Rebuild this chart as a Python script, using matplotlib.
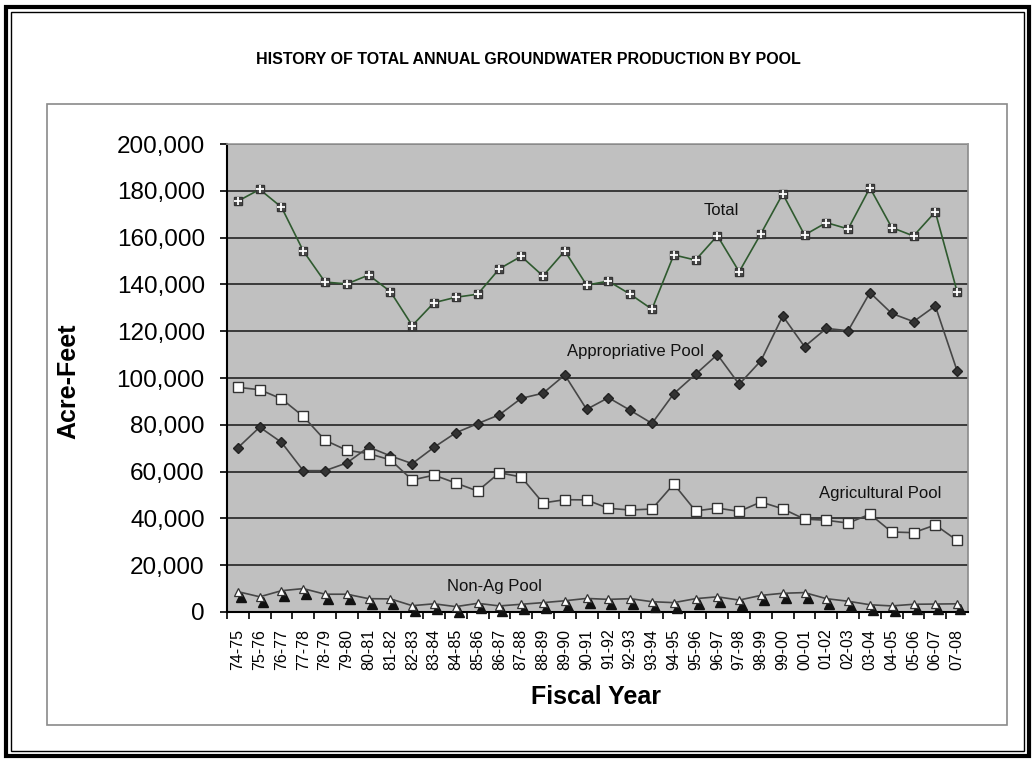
import matplotlib
matplotlib.use("Agg")
import matplotlib.pyplot as plt
from matplotlib import transforms
from matplotlib.patches import Rectangle
from matplotlib.ticker import FuncFormatter, FixedLocator

plt.rcParams['font.family'] = ['Liberation Sans', 'DejaVu Sans']

# Fiscal years
years = ["74-75", "75-76", "76-77", "77-78", "78-79", "79-80", "80-81", "81-82",
         "82-83", "83-84", "84-85", "85-86", "86-87", "87-88", "88-89", "89-90",
         "90-91", "91-92", "92-93", "93-94", "94-95", "95-96", "96-97", "97-98",
         "98-99", "99-00", "00-01", "01-02", "02-03", "03-04", "04-05", "05-06",
         "06-07", "07-08"]

# Annual production, acre-feet
total = [175600, 180600, 173000, 154300, 141000, 140200, 144000, 136900,
         122400, 132200, 134500, 135800, 146700, 152000, 143600, 154300,
         139700, 141400, 135800, 129400, 152600, 150400, 160800, 145400,
         161700, 178700, 161100, 166400, 163700, 181300, 164300, 160700,
         171000, 136900]
appropriative = [70200, 79000, 72500, 60400, 60400, 63700, 70500, 66700,
                 63400, 70400, 76600, 80500, 84300, 91300, 93500, 101300,
                 86600, 91600, 86200, 80600, 93300, 101600, 110000, 97300,
                 107400, 126500, 113400, 121200, 120200, 136500, 127600, 124100,
                 130800, 103100]
agricultural = [96000, 95000, 91100, 83600, 73400, 69100, 67700, 65000,
                56400, 58500, 55100, 51700, 59500, 57700, 46600, 48000,
                47900, 44300, 43600, 44000, 54700, 43200, 44400, 43000,
                47000, 44100, 39700, 39200, 38000, 41800, 34200, 33900,
                37200, 30600]
non_ag = [8700, 6500, 9100, 10000, 7600, 7600, 5700, 5600,
          2700, 3500, 2300, 3700, 2600, 3300, 4000, 4800,
          5800, 5400, 5700, 4400, 4000, 5700, 6500, 5100,
          7100, 8000, 8300, 5700, 4600, 3100, 2600, 3300,
          3400, 3500]

W, H, DPI = 1034, 759, 100
fig = plt.figure(figsize=(W / DPI, H / DPI), dpi=DPI)
fig.patch.set_facecolor("white")


def fx(px):
    return px / W


def fy(py):
    return 1 - py / H


# Page frame (double rule) and chart-area box
fig.patches.append(Rectangle((fx(6), fy(756)), fx(1029) - fx(6), fy(7) - fy(756),
                             transform=fig.transFigure, fill=False,
                             edgecolor="black", linewidth=3.0, zorder=0))
fig.patches.append(Rectangle((fx(11), fy(751)), fx(1024) - fx(11), fy(12) - fy(751),
                             transform=fig.transFigure, fill=False,
                             edgecolor="black", linewidth=1.0, zorder=0))
fig.patches.append(Rectangle((fx(47), fy(725)), fx(1007) - fx(47), fy(104) - fy(725),
                             transform=fig.transFigure, fill=False,
                             edgecolor="#8a8a8a", linewidth=1.2, zorder=0))

ax = fig.add_axes([fx(227), fy(612), fx(968) - fx(227), fy(144) - fy(612)])
ax.set_facecolor("#c0c0c0")
x = list(range(len(years)))

ax.set_xlim(-0.5, len(years) - 0.5)
ax.set_ylim(0, 200000)

# Horizontal gridlines
ax.yaxis.set_major_locator(FixedLocator(list(range(0, 200001, 20000))))
ax.yaxis.set_major_formatter(FuncFormatter(lambda v, p: f"{int(v):,}"))
ax.grid(axis="y", color="#3a3a3a", linewidth=1.4, zorder=1)
ax.set_axisbelow(True)

line_kw = dict(linewidth=1.2, zorder=3)

# Total
ax.plot(x, total, color="#2f5a2f", **line_kw)
ax.plot(x, total, linestyle="none", marker="s", markersize=6.2,
        markerfacecolor="#4a4a4a", markeredgecolor="#333333", zorder=4)
ax.plot(x, total, linestyle="none", marker="+", markersize=6.0,
        markeredgecolor="white", markeredgewidth=1.3, zorder=5)

# Appropriative Pool
ax.plot(x, appropriative, color="#474747", marker="D", markersize=5.2,
        markerfacecolor="#333333", markeredgecolor="#222222", **line_kw)

# Agricultural Pool
ax.plot(x, agricultural, color="#474747", marker="s", markersize=6.8,
        markerfacecolor="white", markeredgecolor="#333333",
        markeredgewidth=1.0, **line_kw)

# Non-Ag Pool, with drop-shadowed markers
shadow = transforms.offset_copy(ax.transData, fig=fig, x=3, y=-5, units="dots")
ax.plot(x, non_ag, linestyle="none", marker="^", markersize=6.5,
        markerfacecolor="#111111", markeredgecolor="#111111",
        transform=shadow, zorder=3, clip_on=False)
ax.plot(x, non_ag, color="#474747", marker="^", markersize=6.0,
        markerfacecolor="white", markeredgecolor="#333333",
        markeredgewidth=0.9, linewidth=1.2, zorder=4, clip_on=False)

# Series labels
ax.text(21.35, 171400, "Total", fontsize=12, va="center", ha="left", color="#111111")
ax.text(15.1, 111500, "Appropriative Pool", fontsize=12, va="center", ha="left", color="#111111")
ax.text(26.65, 50850, "Agricultural Pool", fontsize=12, va="center", ha="left", color="#111111")
ax.text(9.6, 10700, "Non-Ag Pool", fontsize=12, va="center", ha="left", color="#111111")

# Axes styling
ax.spines["left"].set_color("black")
ax.spines["left"].set_linewidth(1.5)
ax.spines["bottom"].set_color("black")
ax.spines["bottom"].set_linewidth(1.5)
ax.spines["top"].set_color("#9a9a9a")
ax.spines["top"].set_linewidth(1.2)
ax.spines["right"].set_color("#8a8a8a")
ax.spines["right"].set_linewidth(1.2)

ax.tick_params(axis="y", direction="out", length=5, width=1.2, pad=11,
               labelsize=17.5, colors="black")
ax.set_xticks(x)
ax.set_xticklabels(years, rotation=90, fontsize=11.5)
ax.set_xticks([i + 0.5 for i in x[:-1]] + [-0.5], minor=True)
ax.tick_params(axis="x", which="major", length=0, pad=12)
ax.tick_params(axis="x", which="minor", direction="out", length=5, width=1.2)

fig.text(fx(528), fy(60), "HISTORY OF TOTAL ANNUAL GROUNDWATER PRODUCTION BY POOL",
         ha="center", va="center", fontsize=11.5, fontweight="bold")
fig.text(fx(68), fy(381), "Acre-Feet", rotation=90, ha="center", va="center",
         fontsize=18, fontweight="bold")
fig.text(fx(596), fy(697), "Fiscal Year", ha="center", va="center",
         fontsize=18, fontweight="bold")

fig.savefig("out.png", dpi=DPI, facecolor="white")
